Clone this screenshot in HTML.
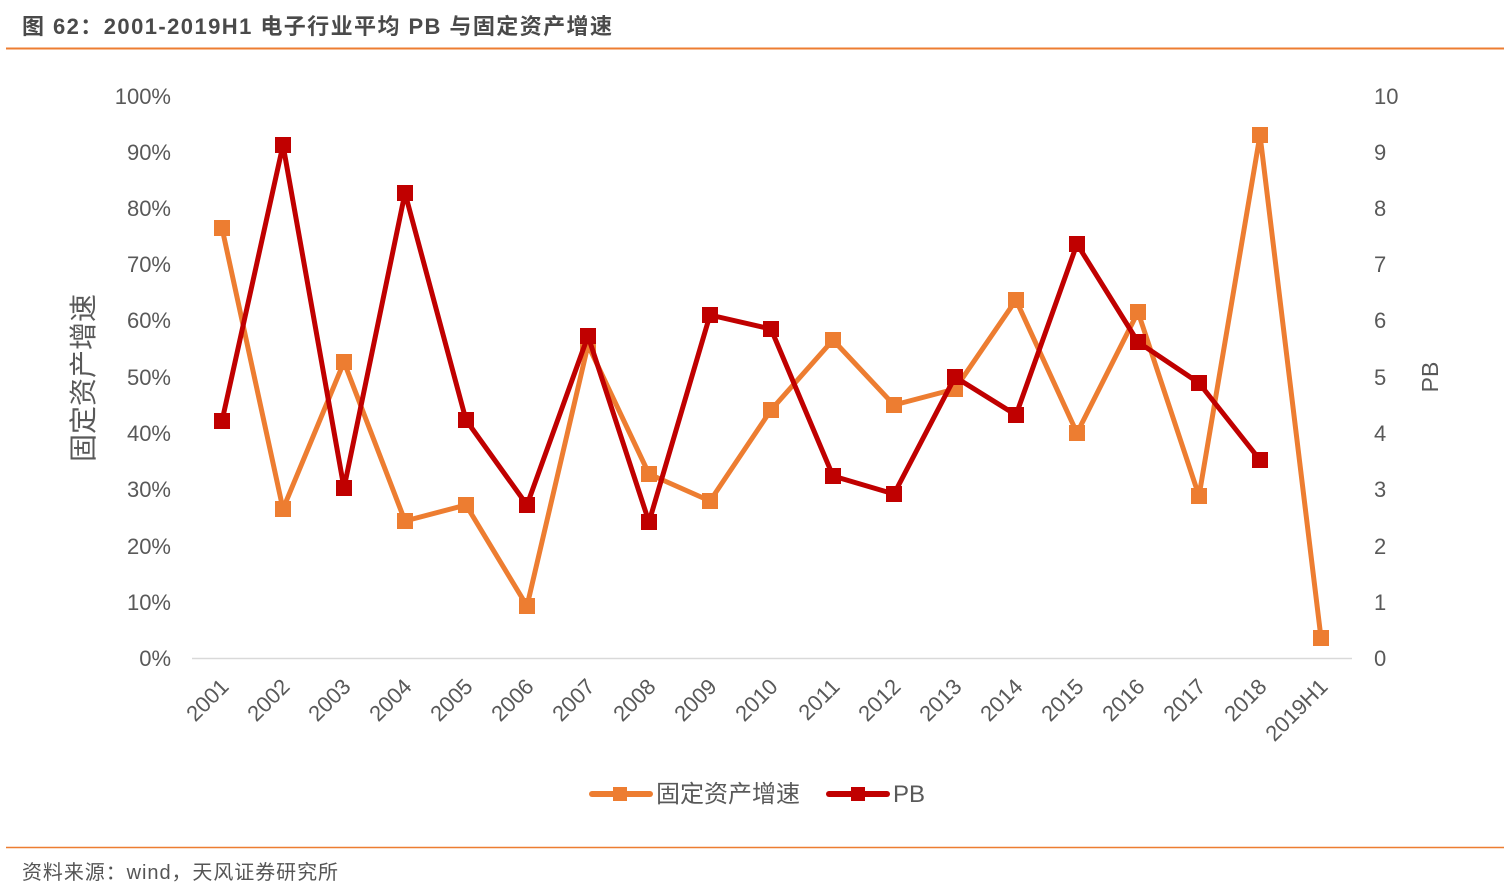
<!DOCTYPE html>
<html><head><meta charset="utf-8"><style>
body{margin:0;background:#fff;}
svg{display:block;font-family:"Liberation Sans","Noto Sans CJK SC",sans-serif;}
</style></head><body>
<svg width="1510" height="896" viewBox="0 0 1510 896">
<text x="22" y="34" font-size="22" font-weight="bold" fill="#4a4a4a" textLength="590" lengthAdjust="spacing">图 62：2001-2019H1 电子行业平均 PB 与固定资产增速</text>
<line x1="6" y1="48.5" x2="1504" y2="48.5" stroke="#ed7d31" stroke-width="2"/>
<line x1="6" y1="847.5" x2="1504" y2="847.5" stroke="#ed7d31" stroke-width="1.5"/>
<text x="22" y="879" font-size="20" fill="#555" textLength="316" lengthAdjust="spacing">资料来源：wind，天风证券研究所</text>
<line x1="192" y1="658.5" x2="1352" y2="658.5" stroke="#d9d9d9" stroke-width="1.5"/>
<g font-size="22" fill="#595959" text-anchor="end">
<text x="171" y="666">0%</text><text x="171" y="610">10%</text><text x="171" y="554">20%</text><text x="171" y="497">30%</text><text x="171" y="441">40%</text><text x="171" y="385">50%</text><text x="171" y="328">60%</text><text x="171" y="272">70%</text><text x="171" y="216">80%</text><text x="171" y="160">90%</text><text x="171" y="104">100%</text>
</g>
<g font-size="22" fill="#595959" text-anchor="start">
<text x="1374" y="666">0</text><text x="1374" y="610">1</text><text x="1374" y="554">2</text><text x="1374" y="497">3</text><text x="1374" y="441">4</text><text x="1374" y="385">5</text><text x="1374" y="328">6</text><text x="1374" y="272">7</text><text x="1374" y="216">8</text><text x="1374" y="160">9</text><text x="1374" y="104">10</text>
</g>
<text transform="translate(93,378) rotate(-90)" font-size="28" fill="#595959" text-anchor="middle">固定资产增速</text>
<text transform="translate(1438,377) rotate(-90)" font-size="23" fill="#595959" text-anchor="middle">PB</text>
<g font-size="22" fill="#595959" text-anchor="end">
<text transform="translate(230,688) rotate(-45)">2001</text>
<text transform="translate(291,688) rotate(-45)">2002</text>
<text transform="translate(352,688) rotate(-45)">2003</text>
<text transform="translate(413,688) rotate(-45)">2004</text>
<text transform="translate(474,688) rotate(-45)">2005</text>
<text transform="translate(535,688) rotate(-45)">2006</text>
<text transform="translate(596,688) rotate(-45)">2007</text>
<text transform="translate(657,688) rotate(-45)">2008</text>
<text transform="translate(718,688) rotate(-45)">2009</text>
<text transform="translate(779,688) rotate(-45)">2010</text>
<text transform="translate(841,688) rotate(-45)">2011</text>
<text transform="translate(902,688) rotate(-45)">2012</text>
<text transform="translate(963,688) rotate(-45)">2013</text>
<text transform="translate(1024,688) rotate(-45)">2014</text>
<text transform="translate(1085,688) rotate(-45)">2015</text>
<text transform="translate(1146,688) rotate(-45)">2016</text>
<text transform="translate(1207,688) rotate(-45)">2017</text>
<text transform="translate(1268,688) rotate(-45)">2018</text>
<text transform="translate(1329,688) rotate(-45)">2019H1</text>
</g>
<polyline fill="none" stroke="#ed7d31" stroke-width="5" stroke-linejoin="round" points="222,228 283,509 344,362 405,521 466,505 527,606 588,345 649,474 710,501 771,410 833,340 894,405 955,389 1016,300 1077,433 1138,312 1199,496 1260,135 1321,638"/>
<g fill="#ed7d31">
<rect x="214" y="220" width="16" height="16"/><rect x="275" y="501" width="16" height="16"/><rect x="336" y="354" width="16" height="16"/><rect x="397" y="513" width="16" height="16"/><rect x="458" y="497" width="16" height="16"/><rect x="519" y="598" width="16" height="16"/><rect x="580" y="337" width="16" height="16"/><rect x="641" y="466" width="16" height="16"/><rect x="702" y="493" width="16" height="16"/><rect x="763" y="402" width="16" height="16"/><rect x="825" y="332" width="16" height="16"/><rect x="886" y="397" width="16" height="16"/><rect x="947" y="381" width="16" height="16"/><rect x="1008" y="292" width="16" height="16"/><rect x="1069" y="425" width="16" height="16"/><rect x="1130" y="304" width="16" height="16"/><rect x="1191" y="488" width="16" height="16"/><rect x="1252" y="127" width="16" height="16"/><rect x="1313" y="630" width="16" height="16"/>
</g>
<polyline fill="none" stroke="#c00000" stroke-width="5" stroke-linejoin="round" points="222,421 283,145 344,488 405,193 466,420 527,505 588,336 649,522 710,315 771,329 833,476 894,494 955,377 1016,415 1077,244 1138,342 1199,383 1260,460"/>
<g fill="#c00000">
<rect x="214" y="413" width="16" height="16"/><rect x="275" y="137" width="16" height="16"/><rect x="336" y="480" width="16" height="16"/><rect x="397" y="185" width="16" height="16"/><rect x="458" y="412" width="16" height="16"/><rect x="519" y="497" width="16" height="16"/><rect x="580" y="328" width="16" height="16"/><rect x="641" y="514" width="16" height="16"/><rect x="702" y="307" width="16" height="16"/><rect x="763" y="321" width="16" height="16"/><rect x="825" y="468" width="16" height="16"/><rect x="886" y="486" width="16" height="16"/><rect x="947" y="369" width="16" height="16"/><rect x="1008" y="407" width="16" height="16"/><rect x="1069" y="236" width="16" height="16"/><rect x="1130" y="334" width="16" height="16"/><rect x="1191" y="375" width="16" height="16"/><rect x="1252" y="452" width="16" height="16"/>
</g>
<line x1="592" y1="794" x2="650" y2="794" stroke="#ed7d31" stroke-width="6" stroke-linecap="round"/>
<rect x="613" y="787" width="14" height="14" fill="#ed7d31"/>
<text x="656" y="802" font-size="24" fill="#595959">固定资产增速</text>
<line x1="829" y1="794" x2="887" y2="794" stroke="#c00000" stroke-width="6" stroke-linecap="round"/>
<rect x="851" y="787" width="14" height="14" fill="#c00000"/>
<text x="893" y="802" font-size="24" fill="#595959">PB</text>
</svg>
</body></html>
